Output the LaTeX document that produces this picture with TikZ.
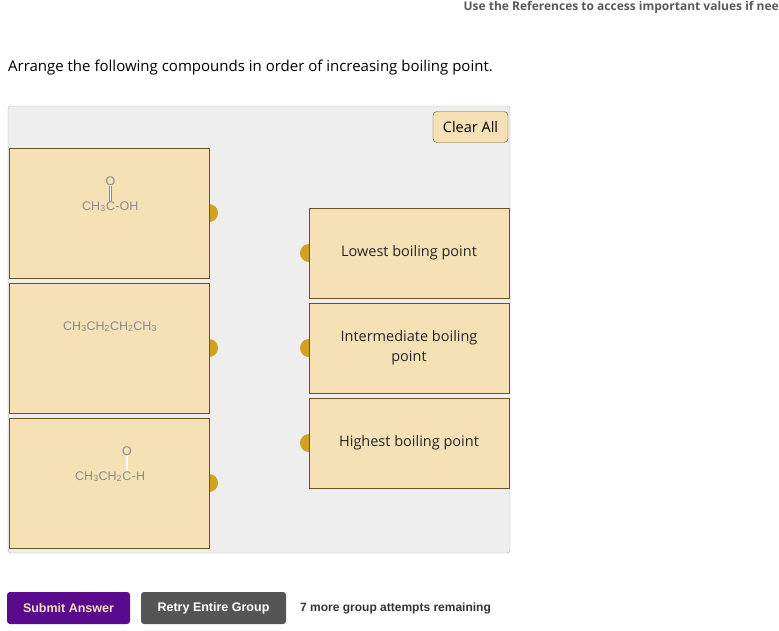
\documentclass[tikz,border=0pt]{standalone}
\usepackage{fontspec}
\setmainfont{Open Sans}
\newfontfamily\arialfont{Liberation Sans}
\usetikzlibrary{positioning}
\definecolor{panelgray}{HTML}{EEEEEE}
\definecolor{cardfill}{HTML}{F6E0B6}
\definecolor{cardedge}{HTML}{6E5220}
\definecolor{knob}{HTML}{D4A022}
\definecolor{chemgray}{HTML}{8C8C8C}
\definecolor{submitpurple}{HTML}{5A0A8C}
\definecolor{retrygray}{HTML}{555555}
\tikzset{
  card/.style={draw=cardedge, fill=cardfill, line width=0.8pt},
  chem/.style={font=\arialfont\fontsize{12.5}{14}\selectfont, text=chemgray, inner sep=0pt},
  label/.style={font=\fontsize{14.5}{20}\selectfont, text=black!85, align=center},
  btn/.style={rounded corners=3pt, font=\arialfont\bfseries\fontsize{12.5}{14}\selectfont}
}
\begin{document}
\begin{tikzpicture}[x=1pt, y=-1pt]
  \useasboundingbox (0,0) rectangle (779,630);
  \node[anchor=north east, font=\bfseries\fontsize{12}{14}\selectfont, text=black!65, inner sep=0pt] (refs) at (779,1) {Use the References to access important values if nee};
  \node[anchor=west, font=\fontsize{15}{18}\selectfont, inner sep=0pt] (task) at (8,68) {Arrange the following compounds in order of increasing boiling point.};

  % panel and clear button
  \draw[draw=black!30, fill=panelgray, rounded corners=3pt] (8,106) rectangle (510,553);
  \node[draw=cardedge, fill=cardfill, rounded corners=4pt, minimum width=75pt, minimum height=31pt, font=\fontsize{14.5}{17}\selectfont] (clear) at (470.5,127) {Clear All};

  % compound cards
  \foreach \y in {148,283,418} {
    \fill[knob] (209,\y+65) circle (9pt);
    \draw[card] (9,\y) rectangle (209,\y+130);
  }
  % answer cards
  \foreach \y/\txt in {208/Lowest boiling point, 303/Intermediate boiling\\point, 398/Highest boiling point} {
    \fill[knob] (309,\y+45) circle (9pt);
    \draw[card] (309,\y) rectangle (509,\y+90);
    \node[label] at (409,\y+45) {\txt};
  }

  % acetic acid
  \node[chem, anchor=base west] (a1) at (82,210) {CH\textsubscript{3}};
  \node[chem, base right=0pt of a1] (c1) {C};
  \node[chem, base right=0pt of c1] (r1) {-OH};
  \node[chem, above=15pt of c1] (o1) {O};
  \draw[chemgray, double, double distance=1.5pt, line width=0.6pt] (c1.north) -- (o1.south);

  % butane
  \node[chem, anchor=base west] (b1) at (63,330) {CH\textsubscript{3}CH\textsubscript{2}CH\textsubscript{2}CH\textsubscript{3}};

  % propanal
  \node[chem, anchor=base west] (a3) at (75,480) {CH\textsubscript{3}CH\textsubscript{2}};
  \node[chem, base right=0pt of a3] (c3) {C};
  \node[chem, base right=0pt of c3] (r3) {-H};
  \node[chem, above=15pt of c3] (o3) {O};
  \draw[chemgray, double, double distance=1.5pt, line width=0.6pt] (c3.north) -- (o3.south);

  % buttons
  \node[btn, fill=submitpurple, text=cardfill, minimum width=123pt, minimum height=32pt] (submit) at (68.5,608) {Submit Answer};
  \node[btn, fill=retrygray, text=white, minimum width=145pt, minimum height=32pt] (retry) at (213.5,608) {Retry Entire Group};
  \node[anchor=west, font=\arialfont\bfseries\fontsize{12}{14}\selectfont, text=black!80, inner sep=0pt] (remain) at (300,608) {7 more group attempts remaining};
\end{tikzpicture}
\end{document}
